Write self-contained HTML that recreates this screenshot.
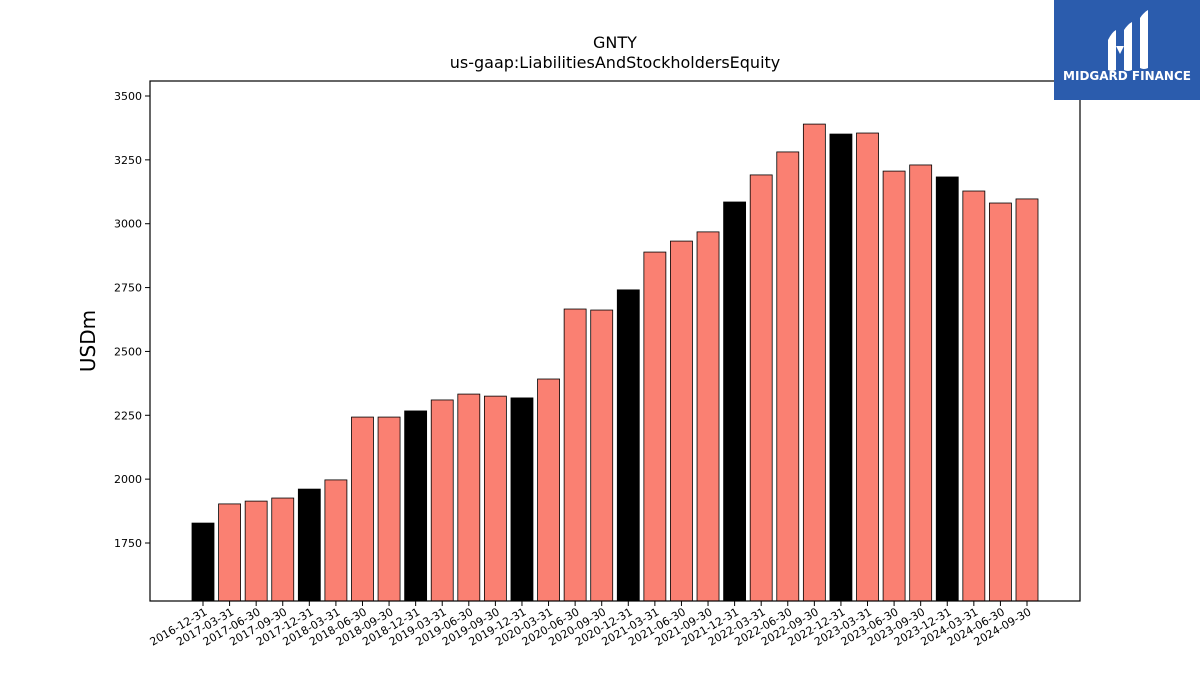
<!DOCTYPE html>
<html><head><meta charset="utf-8"><style>
body{margin:0;background:#fff;width:1200px;height:675px;overflow:hidden;font-family:"Liberation Sans","DejaVu Sans",sans-serif}
</style></head><body>
<svg id="chart" width="1200" height="675" xmlns="http://www.w3.org/2000/svg">
<rect width="1200" height="675" fill="#fff"/>
<text x="615" y="48" text-anchor="middle" font-size="16" font-family="DejaVu Sans, sans-serif">GNTY</text>
<text x="615" y="68" text-anchor="middle" font-size="16" font-family="DejaVu Sans, sans-serif">us-gaap:LiabilitiesAndStockholdersEquity</text>
<text transform="translate(95,341) rotate(-90)" text-anchor="middle" font-size="20" font-family="DejaVu Sans, sans-serif">USDm</text>
<g id="bars"></g><g id="yaxis"></g><g id="xaxis"></g>
<rect x="150" y="81" width="930" height="520" fill="none" stroke="#000" stroke-width="1.2"/>
<g>
<rect x="1054" y="0" width="146" height="100" fill="#2b5cad"/>
<path d="M1108 40 q4-8 8-10 v40 q-4 2-8 0z M1124 30 q4-6 8-8 v48 q-4 2-8 0z M1140 18 q4-6 8-8 v58 q-4 2-8 0z M1116 46 l8 0 -4 8z" fill="#fff"/>
<text x="1127" y="80" text-anchor="middle" font-size="12" font-weight="bold" fill="#fff" font-family="DejaVu Sans, sans-serif">MIDGARD FINANCE</text>
</g>
</svg>
<script>
const categories=["2016-12-31","2017-03-31","2017-06-30","2017-09-30","2017-12-31","2018-03-31","2018-06-30","2018-09-30","2018-12-31","2019-03-31","2019-06-30","2019-09-30","2019-12-31","2020-03-31","2020-06-30","2020-09-30","2020-12-31","2021-03-31","2021-06-30","2021-09-30","2021-12-31","2022-03-31","2022-06-30","2022-09-30","2022-12-31","2023-03-31","2023-06-30","2023-09-30","2023-12-31","2024-03-31","2024-06-30","2024-09-30"];
const values=[1828,1903,1914,1926,1961,1997,2243,2243,2267,2310,2333,2325,2318,2392,2666,2662,2741,2889,2932,2968,3085,3191,3281,3390,3351,3355,3206,3230,3183,3128,3081,3097];
const yTicks=[1750,2000,2250,2500,2750,3000,3250,3500];
const NS="http://www.w3.org/2000/svg";
const y=v=>543-(v-1750)*(447/1750);
const x=i=>203+i*(824/31);
const bw=22;
function mk(t,a,p){const e=document.createElementNS(NS,t);for(const k in a)e.setAttribute(k,a[k]);p.appendChild(e);return e;}
const gb=document.getElementById('bars'),gy=document.getElementById('yaxis'),gx=document.getElementById('xaxis');
categories.forEach((c,i)=>{
 const q=c.endsWith('12-31');
 const r=mk('rect',{x:x(i)-bw/2,y:y(values[i]),width:bw,height:601-y(values[i]),fill:q?'#000':'#fa8072',stroke:'#000','stroke-width':0.8},gb);
 
 
 mk('line',{x1:x(i),x2:x(i),y1:601,y2:606,stroke:'#000'},gx);
 const t=mk('text',{x:x(i)+5,y:614,'text-anchor':'end','font-size':11,'font-family':'DejaVu Sans, sans-serif',transform:`rotate(-30 ${x(i)+5} 614)`},gx);
 t.textContent=c;
 
 
});
yTicks.forEach(v=>{
 mk('line',{x1:145,x2:150,y1:y(v),y2:y(v),stroke:'#000'},gy);
 const t=mk('text',{x:142,y:y(v)+4,'text-anchor':'end','font-size':11,'font-family':'DejaVu Sans, sans-serif'},gy);
 t.textContent=v;
 
 
});
</script>
</body></html>
